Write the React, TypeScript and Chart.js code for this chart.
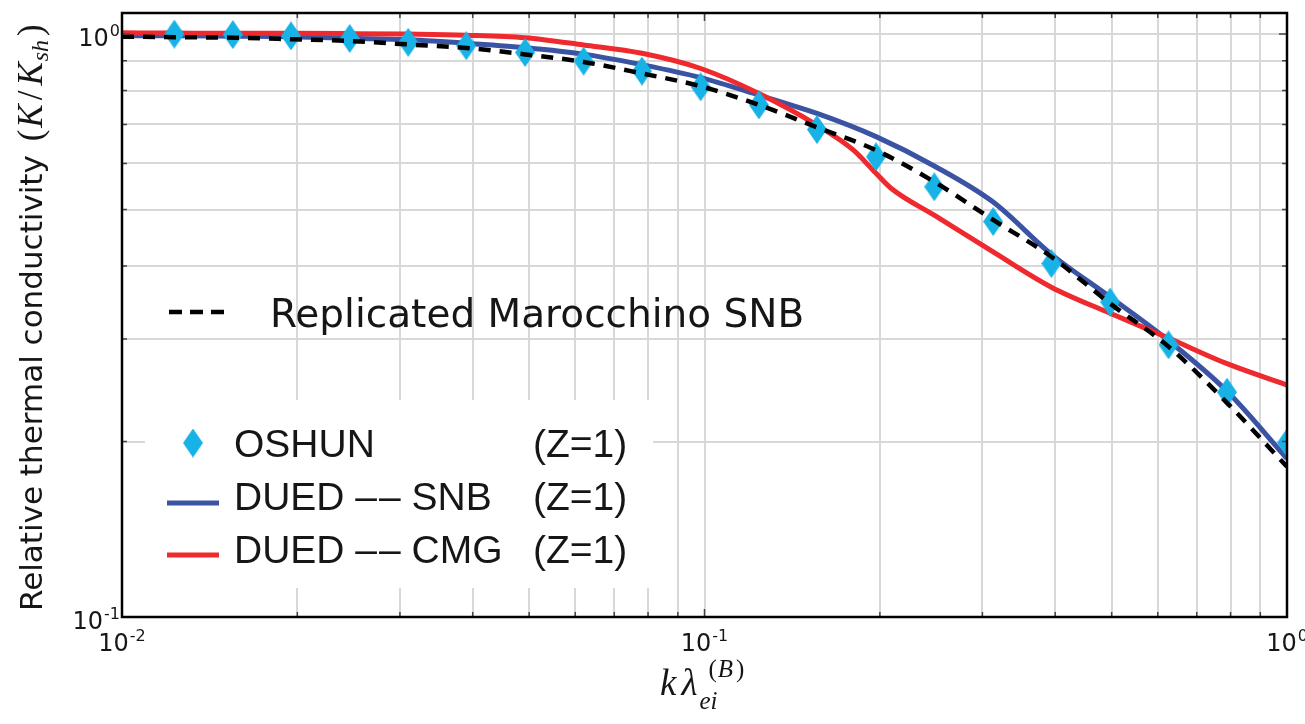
import React, { useEffect, useRef } from 'react';
import { Chart, registerables } from 'chart.js';

Chart.register(...registerables);

// Normalised wavenumber k·λei at which the OSHUN runs were sampled
const kOshun = [
  0.0123, 0.0155, 0.0195, 0.0246, 0.031, 0.039, 0.0492, 0.062, 0.0781, 0.0985,
  0.124, 0.156, 0.197, 0.248, 0.313, 0.394, 0.497, 0.626, 0.789, 1.0,
];
// OSHUN relative conductivity K/Ksh
const oshunValues = [
  1.0, 0.998, 0.993, 0.983, 0.968, 0.955, 0.93, 0.899, 0.864, 0.812,
  0.756, 0.686, 0.616, 0.547, 0.477, 0.404, 0.347, 0.293, 0.243, 0.199,
];

// Abscissae of the smooth model curves
const kCurve = [
  0.01, 0.0123, 0.0155, 0.0195, 0.0246, 0.031, 0.039, 0.0492, 0.062, 0.0781, 0.0985,
  0.124, 0.156, 0.197, 0.248, 0.313, 0.394, 0.497, 0.626, 0.789, 1.0,
];
// Replicated Marocchino SNB
const marocchinoValues = [
  0.99, 0.988, 0.986, 0.98, 0.973, 0.96, 0.947, 0.923, 0.896, 0.856, 0.814,
  0.756, 0.692, 0.632, 0.558, 0.48, 0.415, 0.345, 0.291, 0.233, 0.181,
];
// DUED -- SNB
const duedSnbValues = [
  0.994, 0.994, 0.992, 0.99, 0.984, 0.978, 0.965, 0.948, 0.924, 0.886, 0.842,
  0.786, 0.731, 0.667, 0.594, 0.515, 0.419, 0.354, 0.298, 0.244, 0.187,
];
// DUED -- CMG (has a break in slope just above k = 0.2)
const kCmg = [
  0.01, 0.0123, 0.0155, 0.0195, 0.0246, 0.031, 0.039, 0.0492, 0.062, 0.0781, 0.0985,
  0.124, 0.156, 0.18, 0.197, 0.209, 0.248, 0.313, 0.394, 0.497, 0.626, 0.789, 1.0,
];
const duedCmgValues = [
  1.005, 1.004, 1.003, 1.003, 1.002, 1.0, 0.996, 0.986, 0.958, 0.927, 0.873,
  0.791, 0.698, 0.633, 0.577, 0.544, 0.489, 0.423, 0.368, 0.332, 0.301, 0.272, 0.25,
];

const xTicks = [
  0.01, 0.02, 0.03, 0.04, 0.05, 0.06, 0.07, 0.08, 0.09,
  0.1, 0.2, 0.3, 0.4, 0.5, 0.6, 0.7, 0.8, 0.9, 1,
];
const yTicks = [0.1, 0.2, 0.3, 0.4, 0.5, 0.6, 0.7, 0.8, 0.9, 1];
// decade ticks carry a "10^n" label
const decadeValues = [0.01, 0.1, 1];
const decadeExponents = ['-2', '-1', '0'];

const BLUE = '#3b53a3';
const RED = '#ef2a2f';
const CYAN = '#17b2e6';
const GRID = '#d8d8d8';
const INK = '#161616';

function decadeExponent(v: number): string {
  for (let i = 0; i < decadeValues.length; i++) {
    if (Math.abs(Math.log10(v) - Math.log10(decadeValues[i])) < 1e-6) return decadeExponents[i];
  }
  return '';
}

function makeDiamond(w: number, h: number, color: string): HTMLCanvasElement {
  const c = document.createElement('canvas');
  c.width = w;
  c.height = h;
  const g = c.getContext('2d')!;
  g.fillStyle = color;
  g.beginPath();
  g.moveTo(w / 2, 0);
  g.lineTo(w, h / 2);
  g.lineTo(w / 2, h);
  g.lineTo(0, h / 2);
  g.closePath();
  g.fill();
  return c;
}

const BASE_FONT = '24px "DejaVu Sans"';
const EXP_FONT = '16px "DejaVu Sans"';

// draws "10" with a raised exponent; align: 'center' or 'right' relative to x
function drawPower(ctx: CanvasRenderingContext2D, exp: string, x: number, baseline: number, align: string) {
  ctx.font = BASE_FONT;
  const wb = ctx.measureText('10').width;
  ctx.font = EXP_FONT;
  const we = ctx.measureText(exp).width;
  const total = wb + we + 1;
  const x0 = align === 'right' ? x - total : x - total / 2;
  ctx.font = BASE_FONT;
  ctx.fillText('10', x0, baseline);
  ctx.font = EXP_FONT;
  ctx.fillText(exp, x0 + wb + 1, baseline - 10);
}

function makeDecorPlugin(diamond: HTMLCanvasElement) {
  return {
    id: 'decor',
    afterDatasetsDraw(chart: any) {
      const ctx: CanvasRenderingContext2D = chart.ctx;
      const a = chart.chartArea;
      const xs = chart.scales.x;
      const ys = chart.scales.y;
      ctx.save();
      ctx.textBaseline = 'alphabetic';
      ctx.textAlign = 'left';

      // dashed-line legend entry (no frame)
      const l1x = a.left + 47;
      const l1y = a.top + 299;
      ctx.strokeStyle = '#000';
      ctx.lineWidth = 4.5;
      ctx.setLineDash([13, 8]);
      ctx.beginPath();
      ctx.moveTo(l1x, l1y);
      ctx.lineTo(l1x + 55, l1y);
      ctx.stroke();
      ctx.setLineDash([]);
      ctx.fillStyle = INK;
      ctx.font = '39px "DejaVu Sans"';
      ctx.fillText('Replicated Marocchino SNB', a.left + 148, a.top + 314);

      // boxed legend for the simulation results
      const bx = a.left + 23;
      const by = a.top + 387;
      ctx.fillStyle = '#fff';
      ctx.fillRect(bx, by, 508, 188);

      ctx.font = '39px "Liberation Sans"';
      ctx.fillStyle = INK;
      const textX = a.left + 112;
      const zX = a.left + 411;
      const rows = [
        { name: 'OSHUN', model: '', baseline: a.top + 444 },
        { name: 'DUED', model: 'SNB', baseline: a.top + 497 },
        { name: 'DUED', model: 'CMG', baseline: a.top + 550 },
      ];
      rows.forEach((r) => {
        let x = textX;
        ctx.fillText(r.name, x, r.baseline);
        if (r.model) {
          x += ctx.measureText(r.name + ' ').width;
          const dw = ctx.measureText('\u2013').width;
          ctx.fillText('\u2013', x, r.baseline);
          ctx.fillText('\u2013', x + dw + 2, r.baseline);
          x += 2 * dw + 2 + ctx.measureText(' ').width;
          ctx.fillText(r.model, x, r.baseline);
        }
        ctx.fillText('(Z=1)', zX, r.baseline);
      });
      ctx.drawImage(diamond, a.left + 71 - diamond.width / 2, a.top + 430 - diamond.height / 2);
      ctx.lineWidth = 5;
      ctx.strokeStyle = BLUE;
      ctx.beginPath();
      ctx.moveTo(a.left + 45, a.top + 490);
      ctx.lineTo(a.left + 97, a.top + 490);
      ctx.stroke();
      ctx.strokeStyle = RED;
      ctx.beginPath();
      ctx.moveTo(a.left + 45, a.top + 542);
      ctx.lineTo(a.left + 97, a.top + 542);
      ctx.stroke();

      // inward tick marks on all four sides
      ctx.strokeStyle = '#444';
      ctx.lineWidth = 1.5;
      xs.ticks.forEach((t: any) => {
        const px = xs.getPixelForValue(t.value);
        const len = decadeExponent(t.value) ? 8 : 5;
        ctx.beginPath();
        ctx.moveTo(px, a.bottom);
        ctx.lineTo(px, a.bottom - len);
        ctx.moveTo(px, a.top);
        ctx.lineTo(px, a.top + len);
        ctx.stroke();
      });
      ys.ticks.forEach((t: any) => {
        const py = ys.getPixelForValue(t.value);
        const len = decadeExponent(t.value) ? 8 : 5;
        ctx.beginPath();
        ctx.moveTo(a.left, py);
        ctx.lineTo(a.left + len, py);
        ctx.moveTo(a.right, py);
        ctx.lineTo(a.right - len, py);
        ctx.stroke();
      });

      // plot frame
      ctx.strokeStyle = '#000';
      ctx.lineWidth = 2.5;
      ctx.strokeRect(a.left, a.top, a.right - a.left, a.bottom - a.top);

      // decade tick labels
      ctx.fillStyle = INK;
      xs.ticks.forEach((t: any) => {
        const e = decadeExponent(t.value);
        if (e) drawPower(ctx, e, xs.getPixelForValue(t.value), a.bottom + 34, 'center');
      });
      ys.ticks.forEach((t: any) => {
        const e = decadeExponent(t.value);
        if (e) drawPower(ctx, e, a.left - 2, ys.getPixelForValue(t.value) + 12, 'right');
      });

      // y-axis title
      ctx.save();
      ctx.translate(42, 611);
      ctx.rotate(-Math.PI / 2);
      ctx.fillStyle = INK;
      ctx.font = '31px "DejaVu Sans"';
      const main = 'Relative thermal conductivity ';
      ctx.fillText(main, 0, 0);
      let cx = ctx.measureText(main).width + 4;
      const up = '35px "Liberation Serif"';
      const it = 'italic 35px "Liberation Serif"';
      const sub = 'italic 24px "Liberation Serif"';
      const piece = (t: string, f: string, dy: number, gap: number) => {
        ctx.font = f;
        ctx.fillText(t, cx, dy);
        cx += ctx.measureText(t).width + gap;
      };
      piece('(', up, 0, 2);
      piece('K', it, 0, 4);
      piece('/', up, 0, 5);
      piece('K', it, 0, 1);
      piece('sh', sub, 6, 4);
      piece(')', up, 0, 0);
      ctx.restore();

      // x-axis title
      ctx.fillStyle = INK;
      let tx = 660;
      ctx.font = 'italic 37px "Liberation Serif"';
      ctx.fillText('k', tx, 695);
      tx += ctx.measureText('k').width + 5;
      ctx.fillText('\u03BB', tx, 695);
      tx += ctx.measureText('\u03BB').width + 2;
      ctx.font = 'italic 25px "Liberation Serif"';
      ctx.fillText('ei', tx, 709);
      let sx = tx + 9;
      ctx.font = '25px "Liberation Serif"';
      ctx.fillText('(', sx, 677);
      sx += ctx.measureText('(').width + 1;
      ctx.font = 'italic 25px "Liberation Serif"';
      ctx.fillText('B', sx, 677);
      sx += ctx.measureText('B').width + 3;
      ctx.font = '25px "Liberation Serif"';
      ctx.fillText(')', sx, 677);

      ctx.restore();
    },
  };
}

export default function App() {
  const canvasRef = useRef<HTMLCanvasElement | null>(null);

  useEffect(() => {
    const canvas = canvasRef.current;
    if (!canvas) return;
    const diamond = makeDiamond(20, 29, CYAN);

    const chart = new Chart(canvas, {
      type: 'line',
      data: {
        datasets: [
          {
            label: 'Replicated Marocchino SNB',
            data: kCurve.map((k, i) => ({ x: k, y: marocchinoValues[i] })),
            borderColor: '#000',
            borderWidth: 4.5,
            borderDash: [12, 9],
            pointRadius: 0,
            cubicInterpolationMode: 'monotone',
            order: 0,
            clip: 0,
          },
          {
            label: 'OSHUN (Z=1)',
            data: kOshun.map((k, i) => ({ x: k, y: oshunValues[i] })),
            showLine: false,
            pointStyle: diamond,
            pointRadius: 10,
            order: 1,
            clip: 0,
          },
          {
            label: 'DUED -- CMG (Z=1)',
            data: kCmg.map((k, i) => ({ x: k, y: duedCmgValues[i] })),
            borderColor: RED,
            borderWidth: 5,
            pointRadius: 0,
            cubicInterpolationMode: 'monotone',
            order: 2,
            clip: 0,
          },
          {
            label: 'DUED -- SNB (Z=1)',
            data: kCurve.map((k, i) => ({ x: k, y: duedSnbValues[i] })),
            borderColor: BLUE,
            borderWidth: 5,
            pointRadius: 0,
            cubicInterpolationMode: 'monotone',
            order: 3,
            clip: 0,
          },
        ],
      },
      options: {
        responsive: false,
        animation: false,
        layout: { padding: { top: 13, right: 18, left: 0, bottom: 0 } },
        plugins: {
          legend: { display: false },
          title: { display: false },
          tooltip: { enabled: false },
        },
        scales: {
          x: {
            type: 'logarithmic',
            position: 'bottom',
            min: 0.01,
            max: 1,
            grid: { color: GRID, lineWidth: 2, drawTicks: false },
            border: { display: false },
            ticks: { display: false },
            afterBuildTicks: (s: any) => {
              s.ticks = xTicks.map((v) => ({ value: v }));
            },
            afterFit: (s: any) => {
              s.height = 107;
            },
          },
          y: {
            type: 'logarithmic',
            position: 'left',
            min: 0.1,
            max: 1.087,
            grid: { color: GRID, lineWidth: 2, drawTicks: false },
            border: { display: false },
            ticks: { display: false },
            afterBuildTicks: (s: any) => {
              s.ticks = yTicks.map((v) => ({ value: v }));
            },
            afterFit: (s: any) => {
              s.width = 122;
            },
          },
        },
      },
      plugins: [makeDecorPlugin(diamond)],
    } as any);

    return () => chart.destroy();
  }, []);

  return (
    <div style={{ position: 'fixed', left: 0, top: 0, width: 1305, height: 724, background: '#fff' }}>
      <canvas ref={canvasRef} width={1305} height={724} style={{ width: 1305, height: 724 }} />
    </div>
  );
}
